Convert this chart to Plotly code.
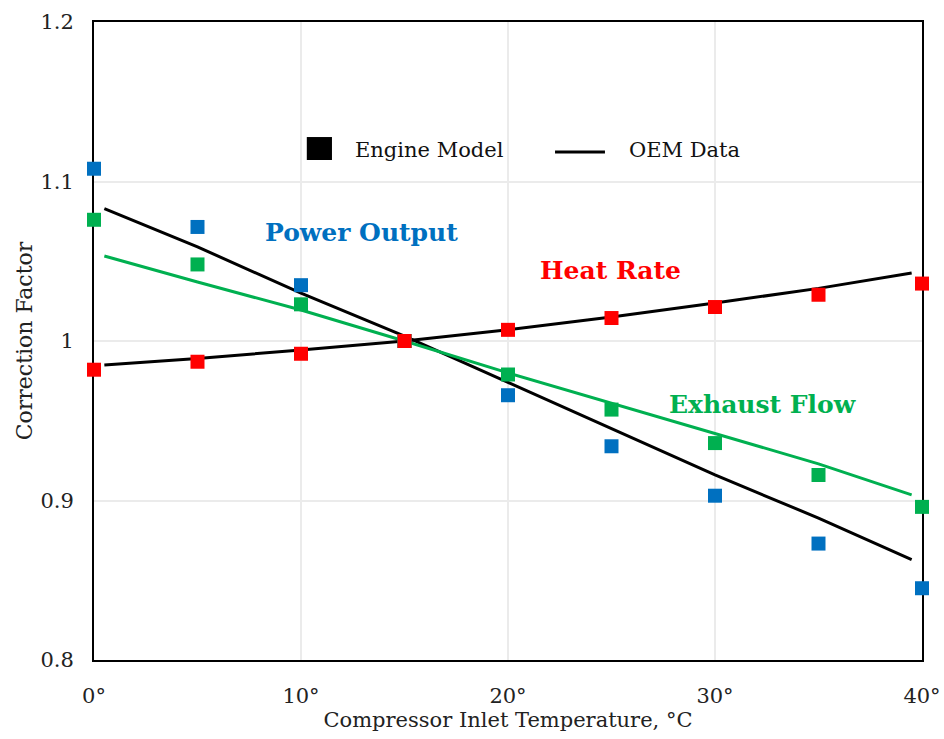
import plotly.graph_objects as go

# Compressor inlet temperature (deg C)
temps = [0, 5, 10, 15, 20, 25, 30, 35, 40]

# Engine model correction factors
power_model = [1.108, 1.0715, 1.035, 1.0, 0.966, 0.934, 0.903, 0.873, 0.845]
exhaust_model = [1.076, 1.048, 1.023, 1.0, 0.979, 0.957, 0.936, 0.916, 0.896]
heat_rate_model = [0.982, 0.987, 0.992, 1.0, 1.007, 1.0144, 1.0213, 1.029, 1.036]

# OEM curves
oem_temps = [0.5, 5, 10, 15, 20, 25, 30, 35, 39.5]
power_oem = [1.083, 1.059, 1.030, 1.003, 0.974, 0.945, 0.916, 0.889, 0.863]
exhaust_oem = [1.0533, 1.037, 1.0194, 1.0, 0.980, 0.961, 0.942, 0.923, 0.9035]
heat_rate_oem = [0.985, 0.989, 0.9944, 1.0, 1.007, 1.015, 1.0238, 1.033, 1.0426]

x_ticks = [0, 10, 20, 30, 40]
x_tick_text = ["0°", "10°", "20°", "30°", "40°"]
y_ticks = [0.8, 0.9, 1.0, 1.1, 1.2]
y_tick_text = ["0.8", "0.9", "1", "1.1", "1.2"]

BLUE = "#0070C0"
GREEN = "#00B050"
RED = "#FF0000"
FONT = "DejaVu Serif"

fig = go.Figure()

# OEM lines
fig.add_trace(go.Scatter(x=oem_temps, y=power_oem, mode="lines",
                         line=dict(color="black", width=3), showlegend=False))
fig.add_trace(go.Scatter(x=oem_temps, y=exhaust_oem, mode="lines",
                         line=dict(color=GREEN, width=3), showlegend=False))
fig.add_trace(go.Scatter(x=oem_temps, y=heat_rate_oem, mode="lines",
                         line=dict(color="black", width=3), showlegend=False))

# Engine model markers
for vals, col in [(power_model, BLUE), (exhaust_model, GREEN), (heat_rate_model, RED)]:
    fig.add_trace(go.Scatter(x=temps, y=vals, mode="markers", cliponaxis=False,
                             marker=dict(symbol="square", size=14, color=col,
                                         line=dict(width=0)),
                             showlegend=False))

# Series labels
labels = [("Power Output", 12.9, 1.068, BLUE),
          ("Heat Rate", 24.97, 1.0445, RED),
          ("Exhaust Flow", 32.3, 0.960, GREEN)]
for txt, lx, ly, col in labels:
    fig.add_annotation(x=lx, y=ly, text=f"<b>{txt}</b>", showarrow=False,
                       font=dict(family=FONT, size=25, color=col))

# Legend drawn in paper coordinates
fig.add_shape(type="rect", xref="paper", yref="paper",
              x0=0.257, x1=0.2874, y0=0.7837, y1=0.8197,
              fillcolor="black", line=dict(width=0))
fig.add_annotation(xref="paper", yref="paper", x=0.3128, y=0.7994,
                   text="Engine Model", showarrow=False,
                   xanchor="left", yanchor="middle",
                   font=dict(family=FONT, size=21, color="#111111"))
fig.add_shape(type="line", xref="paper", yref="paper",
              x0=0.5568, x1=0.6171, y0=0.7962, y1=0.7962,
              line=dict(color="black", width=3))
fig.add_annotation(xref="paper", yref="paper", x=0.6437, y=0.7994,
                   text="OEM Data", showarrow=False,
                   xanchor="left", yanchor="middle",
                   font=dict(family=FONT, size=21, color="#111111"))

fig.update_layout(
    width=944, height=739,
    margin=dict(l=94, r=22, t=22, b=79, autoexpand=False),
    paper_bgcolor="white", plot_bgcolor="white",
    font=dict(family=FONT, size=21, color="#222222"),
    xaxis=dict(range=[0, 40], tickvals=x_ticks, ticktext=x_tick_text,
               showgrid=True, gridcolor="#EBEBEB", gridwidth=2,
               showline=True, linecolor="black", linewidth=2, mirror=True,
               zeroline=False, ticks="", layer="below traces",
               ticklabelstandoff=16, automargin=True,
               title=dict(text="Compressor Inlet Temperature, °C",
                          font=dict(size=21), standoff=4)),
    yaxis=dict(range=[0.8, 1.2], tickvals=y_ticks, ticktext=y_tick_text,
               showgrid=True, gridcolor="#EBEBEB", gridwidth=2,
               showline=True, linecolor="black", linewidth=2, mirror=True,
               zeroline=False, ticks="", layer="below traces",
               ticklabelstandoff=14, automargin=True,
               title=dict(text="Correction Factor", font=dict(size=22), standoff=2)),
)

fig.write_html("out.html")
